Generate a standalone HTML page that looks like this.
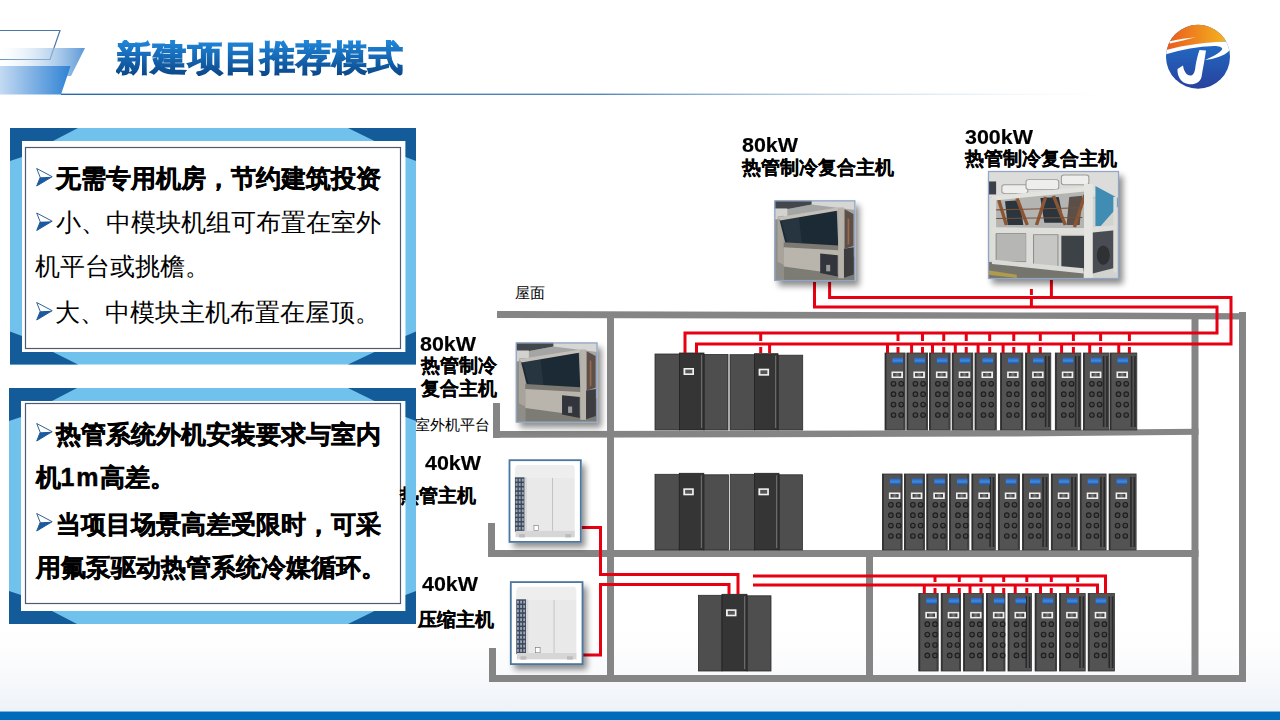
<!DOCTYPE html>
<html><head><meta charset="utf-8"><style>
html,body{margin:0;padding:0;}
body{width:1280px;height:720px;position:relative;overflow:hidden;background:#ffffff;font-family:"Liberation Sans",sans-serif;}
.t{position:absolute;white-space:nowrap;}
svg.layer{position:absolute;left:0;top:0;}
.title{position:absolute;left:116px;top:40px;font-size:35px;line-height:36px;letter-spacing:1px;font-weight:bold;white-space:nowrap;background:linear-gradient(#2088dc,#0a4688);-webkit-background-clip:text;background-clip:text;-webkit-text-fill-color:transparent;-webkit-text-stroke:1.3px transparent;color:#1563b0;}
</style></head><body>
<svg class="layer" width="1280" height="720" viewBox="0 0 1280 720">
<defs>
<linearGradient id="hg1" x1="0" x2="1" y1="0" y2="0"><stop offset="0" stop-color="#ffffff" stop-opacity="0.2"/><stop offset="1" stop-color="#5b98d6"/></linearGradient>
<linearGradient id="hg2" x1="0" x2="1" y1="0" y2="0"><stop offset="0" stop-color="#c4daf2"/><stop offset="1" stop-color="#2f82d4"/></linearGradient>
<linearGradient id="hline" x1="0" x2="1" y1="0" y2="0"><stop offset="0" stop-color="#2a6aa8"/><stop offset="0.5" stop-color="#2a6aa8" stop-opacity="0.8"/><stop offset="0.85" stop-color="#9cc0d8" stop-opacity="0.2"/><stop offset="1" stop-color="#ffffff" stop-opacity="0"/></linearGradient>
<linearGradient id="orange" x1="0" x2="1" y1="0" y2="0"><stop offset="0" stop-color="#e8501e"/><stop offset="1" stop-color="#f7c81e"/></linearGradient>
<linearGradient id="blue" x1="0" x2="0" y1="0" y2="1"><stop offset="0" stop-color="#1f7fd6"/><stop offset="1" stop-color="#283c98"/></linearGradient>
<linearGradient id="bottomfade" x1="0" x2="0" y1="0" y2="1"><stop offset="0" stop-color="#ffffff" stop-opacity="0"/><stop offset="0.6" stop-color="#f9fafc"/><stop offset="1" stop-color="#eef2f8"/></linearGradient>
<linearGradient id="rackblue" x1="0" x2="0" y1="0" y2="1"><stop offset="0" stop-color="#2a62b8"/><stop offset="0.5" stop-color="#3f8ae0"/><stop offset="1" stop-color="#1f4e98"/></linearGradient>
<linearGradient id="dispgray" x1="0" x2="1" y1="0" y2="0"><stop offset="0" stop-color="#333"/><stop offset="0.5" stop-color="#777"/><stop offset="1" stop-color="#333"/></linearGradient>
<filter id="soft"><feGaussianBlur stdDeviation="0.45"/></filter>
<filter id="shadow" x="-20%" y="-20%" width="150%" height="150%"><feGaussianBlur in="SourceAlpha" stdDeviation="3"/><feOffset dx="4" dy="5"/><feComponentTransfer><feFuncA type="linear" slope="0.45"/></feComponentTransfer><feMerge><feMergeNode/><feMergeNode in="SourceGraphic"/></feMerge></filter>
<clipPath id="logoclip"><circle cx="1198" cy="56.7" r="32"/></clipPath>
</defs>
<rect x="0.0" y="610.0" width="1280.0" height="102.0" fill="url(#bottomfade)" />
<polyline points="0,30.5 60,30.5 50,59.5 0,59.5" fill="none" stroke="#4a78a8" stroke-width="1.2"/>
<polygon points="0,48 85,48 71,76 0,76" fill="url(#hg1)"/>
<polygon points="0,66 70.6,66 61,94.4 0,94.4" fill="url(#hg2)"/>
<rect x="61.0" y="93.6" width="1080.0" height="1.4" fill="url(#hline)" />
<rect x="0.0" y="711.5" width="1280.0" height="8.5" fill="#006bbb" />
<rect x="0.0" y="711.2" width="1280.0" height="0.8" fill="#7fb4e0" />
<g clip-path="url(#logoclip)">
<rect x="1160" y="20" width="80" height="75" fill="url(#blue)"/>
<path d="M1160,20 H1240 V41.5 C1225,40.5 1195,43 1166,50.5 L1160,52 Z" fill="url(#orange)"/>
<path d="M1169,41.5 C1178,39.5 1188,37.8 1196,37.2 C1188,39.2 1178,41.5 1170,43.5 Z" fill="#fff"/>
<path d="M1160,51.5 C1180,46 1205,41.5 1228,41.5 C1232,42 1233,47 1229,51 C1224,56 1214,59 1205,60 C1212,57 1220,53 1222,49.5 C1223,47.5 1220,46 1214,46 C1196,46.5 1178,50.5 1160,56 Z" fill="#fff"/>
<path d="M1199.5,50 L1206,50.5 C1205,58 1203,68 1201.5,77 C1200,83 1194,85 1188,84 C1181,83 1177,76 1177.5,69 L1183,65.5 C1184,72 1187,76 1191,75.5 C1194,75 1195,71 1195.5,66 C1196.5,60 1198,54 1199.5,50 Z" fill="#fff"/>
</g>
<polygon points="497,311 1100,312.6 1246,313.3 1246,319.5 1100,319 497,318" fill="#858585"/>
<rect x="607.0" y="312.0" width="7.0" height="370.0" fill="#858585" />
<rect x="1191.5" y="313.0" width="7.0" height="369.0" fill="#858585" />
<rect x="1239.0" y="312.0" width="7.0" height="370.0" fill="#858585" />
<polygon points="493,431 1000,430.3 1198.5,428.8 1198.5,434.8 1000,436.6 493,437.8" fill="#858585"/>
<rect x="493.0" y="403.0" width="7.0" height="35.0" fill="#858585" />
<rect x="488.0" y="550.0" width="710.5" height="7.0" fill="#858585" />
<rect x="488.0" y="523.0" width="7.0" height="34.0" fill="#858585" />
<rect x="489.0" y="675.0" width="757.0" height="7.0" fill="#858585" />
<rect x="489.0" y="648.0" width="7.0" height="34.0" fill="#858585" />
<rect x="866.0" y="557.0" width="7.0" height="118.0" fill="#858585" />
<rect x="655.0" y="354.0" width="24.5" height="76.0" fill="#4e4e4e" stroke="#2b2b2b" stroke-width="0.8"/>
<rect x="704.0" y="354.5" width="24.0" height="75.5" fill="#4e4e4e" stroke="#2b2b2b" stroke-width="0.8"/>
<rect x="679.5" y="353.0" width="24.5" height="77.0" fill="#353535" stroke="#222" stroke-width="0.8"/>
<rect x="701.0" y="355.0" width="1.2" height="73.0" fill="#6a6a6a" />
<rect x="683.5" y="368.0" width="10.5" height="7.0" fill="#f0f0f0" />
<rect x="685.3" y="369.6" width="7.0" height="3.8" fill="#555" />
<rect x="730.0" y="354.7" width="24.6" height="75.3" fill="#4e4e4e" stroke="#2b2b2b" stroke-width="0.8"/>
<rect x="778.0" y="355.2" width="24.7" height="74.8" fill="#4e4e4e" stroke="#2b2b2b" stroke-width="0.8"/>
<rect x="754.6" y="353.7" width="23.4" height="76.3" fill="#353535" stroke="#222" stroke-width="0.8"/>
<rect x="775.0" y="355.7" width="1.2" height="72.3" fill="#6a6a6a" />
<rect x="758.6" y="368.7" width="10.5" height="7.0" fill="#f0f0f0" />
<rect x="760.4" y="370.3" width="7.0" height="3.8" fill="#555" />
<rect x="655.0" y="474.3" width="24.3" height="75.7" fill="#4e4e4e" stroke="#2b2b2b" stroke-width="0.8"/>
<rect x="703.8" y="474.8" width="24.6" height="75.2" fill="#4e4e4e" stroke="#2b2b2b" stroke-width="0.8"/>
<rect x="679.3" y="473.3" width="24.5" height="76.7" fill="#353535" stroke="#222" stroke-width="0.8"/>
<rect x="700.8" y="475.3" width="1.2" height="72.7" fill="#6a6a6a" />
<rect x="683.3" y="488.3" width="10.5" height="7.0" fill="#f0f0f0" />
<rect x="685.1" y="489.9" width="7.0" height="3.8" fill="#555" />
<rect x="730.2" y="474.3" width="24.2" height="75.7" fill="#4e4e4e" stroke="#2b2b2b" stroke-width="0.8"/>
<rect x="779.0" y="474.8" width="23.4" height="75.2" fill="#4e4e4e" stroke="#2b2b2b" stroke-width="0.8"/>
<rect x="754.4" y="473.3" width="24.6" height="76.7" fill="#353535" stroke="#222" stroke-width="0.8"/>
<rect x="776.0" y="475.3" width="1.2" height="72.7" fill="#6a6a6a" />
<rect x="758.4" y="488.3" width="10.5" height="7.0" fill="#f0f0f0" />
<rect x="760.2" y="489.9" width="7.0" height="3.8" fill="#555" />
<rect x="698.4" y="595.3" width="23.6" height="75.7" fill="#4e4e4e" stroke="#2b2b2b" stroke-width="0.8"/>
<rect x="747.0" y="595.8" width="24.0" height="75.2" fill="#4e4e4e" stroke="#2b2b2b" stroke-width="0.8"/>
<rect x="722.0" y="594.3" width="25.0" height="76.7" fill="#353535" stroke="#222" stroke-width="0.8"/>
<rect x="744.0" y="596.3" width="1.2" height="72.7" fill="#6a6a6a" />
<rect x="726.0" y="609.3" width="10.5" height="7.0" fill="#f0f0f0" />
<rect x="727.8" y="610.9" width="7.0" height="3.8" fill="#555" />
<rect x="885.0" y="353.0" width="20.1" height="77.0" fill="#535353" stroke="#333" stroke-width="0.8"/>
<rect x="885.0" y="353.0" width="1.4" height="77.0" fill="#2e2e2e" />
<rect x="903.4" y="354.0" width="1.2" height="75.0" fill="#3a3a3a" />
<rect x="892.5" y="357.5" width="10.5" height="6.5" fill="url(#rackblue)" />
<rect x="891.5" y="371.5" width="11.5" height="6.5" fill="#eeeeee" />
<rect x="893.2" y="373.0" width="8.0" height="3.5" fill="url(#dispgray)" />
<circle cx="893.5" cy="383.8" r="2.3" fill="#4a4a4a" stroke="#1e1e1e" stroke-width="1.1"/>
<circle cx="901.2" cy="383.8" r="2.3" fill="#4a4a4a" stroke="#1e1e1e" stroke-width="1.1"/>
<circle cx="893.5" cy="394.2" r="2.3" fill="#4a4a4a" stroke="#1e1e1e" stroke-width="1.1"/>
<circle cx="901.2" cy="394.2" r="2.3" fill="#4a4a4a" stroke="#1e1e1e" stroke-width="1.1"/>
<circle cx="893.5" cy="404.6" r="2.3" fill="#4a4a4a" stroke="#1e1e1e" stroke-width="1.1"/>
<circle cx="901.2" cy="404.6" r="2.3" fill="#4a4a4a" stroke="#1e1e1e" stroke-width="1.1"/>
<circle cx="893.5" cy="415.0" r="2.3" fill="#4a4a4a" stroke="#1e1e1e" stroke-width="1.1"/>
<circle cx="901.2" cy="415.0" r="2.3" fill="#4a4a4a" stroke="#1e1e1e" stroke-width="1.1"/>
<rect x="906.9" y="353.0" width="20.7" height="77.0" fill="#535353" stroke="#333" stroke-width="0.8"/>
<rect x="906.9" y="353.0" width="1.4" height="77.0" fill="#2e2e2e" />
<rect x="925.9" y="354.0" width="1.2" height="75.0" fill="#3a3a3a" />
<rect x="914.4" y="357.5" width="10.5" height="6.5" fill="url(#rackblue)" />
<rect x="913.4" y="371.5" width="11.5" height="6.5" fill="#eeeeee" />
<rect x="915.1" y="373.0" width="8.0" height="3.5" fill="url(#dispgray)" />
<circle cx="915.4" cy="383.8" r="2.3" fill="#4a4a4a" stroke="#1e1e1e" stroke-width="1.1"/>
<circle cx="923.1" cy="383.8" r="2.3" fill="#4a4a4a" stroke="#1e1e1e" stroke-width="1.1"/>
<circle cx="915.4" cy="394.2" r="2.3" fill="#4a4a4a" stroke="#1e1e1e" stroke-width="1.1"/>
<circle cx="923.1" cy="394.2" r="2.3" fill="#4a4a4a" stroke="#1e1e1e" stroke-width="1.1"/>
<circle cx="915.4" cy="404.6" r="2.3" fill="#4a4a4a" stroke="#1e1e1e" stroke-width="1.1"/>
<circle cx="923.1" cy="404.6" r="2.3" fill="#4a4a4a" stroke="#1e1e1e" stroke-width="1.1"/>
<circle cx="915.4" cy="415.0" r="2.3" fill="#4a4a4a" stroke="#1e1e1e" stroke-width="1.1"/>
<circle cx="923.1" cy="415.0" r="2.3" fill="#4a4a4a" stroke="#1e1e1e" stroke-width="1.1"/>
<rect x="929.4" y="353.0" width="20.7" height="77.0" fill="#535353" stroke="#333" stroke-width="0.8"/>
<rect x="929.4" y="353.0" width="1.4" height="77.0" fill="#2e2e2e" />
<rect x="948.4" y="354.0" width="1.2" height="75.0" fill="#3a3a3a" />
<rect x="936.9" y="357.5" width="10.5" height="6.5" fill="url(#rackblue)" />
<rect x="935.9" y="371.5" width="11.5" height="6.5" fill="#eeeeee" />
<rect x="937.6" y="373.0" width="8.0" height="3.5" fill="url(#dispgray)" />
<circle cx="937.9" cy="383.8" r="2.3" fill="#4a4a4a" stroke="#1e1e1e" stroke-width="1.1"/>
<circle cx="945.6" cy="383.8" r="2.3" fill="#4a4a4a" stroke="#1e1e1e" stroke-width="1.1"/>
<circle cx="937.9" cy="394.2" r="2.3" fill="#4a4a4a" stroke="#1e1e1e" stroke-width="1.1"/>
<circle cx="945.6" cy="394.2" r="2.3" fill="#4a4a4a" stroke="#1e1e1e" stroke-width="1.1"/>
<circle cx="937.9" cy="404.6" r="2.3" fill="#4a4a4a" stroke="#1e1e1e" stroke-width="1.1"/>
<circle cx="945.6" cy="404.6" r="2.3" fill="#4a4a4a" stroke="#1e1e1e" stroke-width="1.1"/>
<circle cx="937.9" cy="415.0" r="2.3" fill="#4a4a4a" stroke="#1e1e1e" stroke-width="1.1"/>
<circle cx="945.6" cy="415.0" r="2.3" fill="#4a4a4a" stroke="#1e1e1e" stroke-width="1.1"/>
<rect x="952.2" y="353.0" width="20.6" height="77.0" fill="#535353" stroke="#333" stroke-width="0.8"/>
<rect x="952.2" y="353.0" width="1.4" height="77.0" fill="#2e2e2e" />
<rect x="971.2" y="354.0" width="1.2" height="75.0" fill="#3a3a3a" />
<rect x="959.7" y="357.5" width="10.5" height="6.5" fill="url(#rackblue)" />
<rect x="958.7" y="371.5" width="11.5" height="6.5" fill="#eeeeee" />
<rect x="960.4" y="373.0" width="8.0" height="3.5" fill="url(#dispgray)" />
<circle cx="960.7" cy="383.8" r="2.3" fill="#4a4a4a" stroke="#1e1e1e" stroke-width="1.1"/>
<circle cx="968.4" cy="383.8" r="2.3" fill="#4a4a4a" stroke="#1e1e1e" stroke-width="1.1"/>
<circle cx="960.7" cy="394.2" r="2.3" fill="#4a4a4a" stroke="#1e1e1e" stroke-width="1.1"/>
<circle cx="968.4" cy="394.2" r="2.3" fill="#4a4a4a" stroke="#1e1e1e" stroke-width="1.1"/>
<circle cx="960.7" cy="404.6" r="2.3" fill="#4a4a4a" stroke="#1e1e1e" stroke-width="1.1"/>
<circle cx="968.4" cy="404.6" r="2.3" fill="#4a4a4a" stroke="#1e1e1e" stroke-width="1.1"/>
<circle cx="960.7" cy="415.0" r="2.3" fill="#4a4a4a" stroke="#1e1e1e" stroke-width="1.1"/>
<circle cx="968.4" cy="415.0" r="2.3" fill="#4a4a4a" stroke="#1e1e1e" stroke-width="1.1"/>
<rect x="975.0" y="353.0" width="21.3" height="77.0" fill="#535353" stroke="#333" stroke-width="0.8"/>
<rect x="975.0" y="353.0" width="1.4" height="77.0" fill="#2e2e2e" />
<rect x="994.7" y="354.0" width="1.2" height="75.0" fill="#3a3a3a" />
<rect x="982.5" y="357.5" width="10.5" height="6.5" fill="url(#rackblue)" />
<rect x="981.5" y="371.5" width="11.5" height="6.5" fill="#eeeeee" />
<rect x="983.2" y="373.0" width="8.0" height="3.5" fill="url(#dispgray)" />
<circle cx="983.5" cy="383.8" r="2.3" fill="#4a4a4a" stroke="#1e1e1e" stroke-width="1.1"/>
<circle cx="991.2" cy="383.8" r="2.3" fill="#4a4a4a" stroke="#1e1e1e" stroke-width="1.1"/>
<circle cx="983.5" cy="394.2" r="2.3" fill="#4a4a4a" stroke="#1e1e1e" stroke-width="1.1"/>
<circle cx="991.2" cy="394.2" r="2.3" fill="#4a4a4a" stroke="#1e1e1e" stroke-width="1.1"/>
<circle cx="983.5" cy="404.6" r="2.3" fill="#4a4a4a" stroke="#1e1e1e" stroke-width="1.1"/>
<circle cx="991.2" cy="404.6" r="2.3" fill="#4a4a4a" stroke="#1e1e1e" stroke-width="1.1"/>
<circle cx="983.5" cy="415.0" r="2.3" fill="#4a4a4a" stroke="#1e1e1e" stroke-width="1.1"/>
<circle cx="991.2" cy="415.0" r="2.3" fill="#4a4a4a" stroke="#1e1e1e" stroke-width="1.1"/>
<rect x="1000.6" y="353.0" width="22.2" height="77.0" fill="#535353" stroke="#333" stroke-width="0.8"/>
<rect x="1000.6" y="353.0" width="1.4" height="77.0" fill="#2e2e2e" />
<rect x="1021.2" y="354.0" width="1.2" height="75.0" fill="#3a3a3a" />
<rect x="1008.1" y="357.5" width="10.5" height="6.5" fill="url(#rackblue)" />
<rect x="1007.1" y="371.5" width="11.5" height="6.5" fill="#eeeeee" />
<rect x="1008.8" y="373.0" width="8.0" height="3.5" fill="url(#dispgray)" />
<circle cx="1009.1" cy="383.8" r="2.3" fill="#4a4a4a" stroke="#1e1e1e" stroke-width="1.1"/>
<circle cx="1016.8" cy="383.8" r="2.3" fill="#4a4a4a" stroke="#1e1e1e" stroke-width="1.1"/>
<circle cx="1009.1" cy="394.2" r="2.3" fill="#4a4a4a" stroke="#1e1e1e" stroke-width="1.1"/>
<circle cx="1016.8" cy="394.2" r="2.3" fill="#4a4a4a" stroke="#1e1e1e" stroke-width="1.1"/>
<circle cx="1009.1" cy="404.6" r="2.3" fill="#4a4a4a" stroke="#1e1e1e" stroke-width="1.1"/>
<circle cx="1016.8" cy="404.6" r="2.3" fill="#4a4a4a" stroke="#1e1e1e" stroke-width="1.1"/>
<circle cx="1009.1" cy="415.0" r="2.3" fill="#4a4a4a" stroke="#1e1e1e" stroke-width="1.1"/>
<circle cx="1016.8" cy="415.0" r="2.3" fill="#4a4a4a" stroke="#1e1e1e" stroke-width="1.1"/>
<rect x="1025.6" y="353.0" width="25.2" height="77.0" fill="#535353" stroke="#333" stroke-width="0.8"/>
<rect x="1025.6" y="353.0" width="1.4" height="77.0" fill="#2e2e2e" />
<rect x="1044.8" y="356.0" width="1.6" height="71.0" fill="#2a2a2a" />
<rect x="1048.2" y="356.0" width="1.6" height="71.0" fill="#2a2a2a" />
<rect x="1033.1" y="357.5" width="10.5" height="6.5" fill="url(#rackblue)" />
<rect x="1032.1" y="371.5" width="11.5" height="6.5" fill="#eeeeee" />
<rect x="1033.8" y="373.0" width="8.0" height="3.5" fill="url(#dispgray)" />
<circle cx="1034.1" cy="383.8" r="2.3" fill="#4a4a4a" stroke="#1e1e1e" stroke-width="1.1"/>
<circle cx="1041.8" cy="383.8" r="2.3" fill="#4a4a4a" stroke="#1e1e1e" stroke-width="1.1"/>
<circle cx="1034.1" cy="394.2" r="2.3" fill="#4a4a4a" stroke="#1e1e1e" stroke-width="1.1"/>
<circle cx="1041.8" cy="394.2" r="2.3" fill="#4a4a4a" stroke="#1e1e1e" stroke-width="1.1"/>
<circle cx="1034.1" cy="404.6" r="2.3" fill="#4a4a4a" stroke="#1e1e1e" stroke-width="1.1"/>
<circle cx="1041.8" cy="404.6" r="2.3" fill="#4a4a4a" stroke="#1e1e1e" stroke-width="1.1"/>
<circle cx="1034.1" cy="415.0" r="2.3" fill="#4a4a4a" stroke="#1e1e1e" stroke-width="1.1"/>
<circle cx="1041.8" cy="415.0" r="2.3" fill="#4a4a4a" stroke="#1e1e1e" stroke-width="1.1"/>
<rect x="1055.3" y="353.0" width="25.5" height="77.0" fill="#535353" stroke="#333" stroke-width="0.8"/>
<rect x="1055.3" y="353.0" width="1.4" height="77.0" fill="#2e2e2e" />
<rect x="1074.8" y="356.0" width="1.6" height="71.0" fill="#2a2a2a" />
<rect x="1078.2" y="356.0" width="1.6" height="71.0" fill="#2a2a2a" />
<rect x="1062.8" y="357.5" width="10.5" height="6.5" fill="url(#rackblue)" />
<rect x="1061.8" y="371.5" width="11.5" height="6.5" fill="#eeeeee" />
<rect x="1063.5" y="373.0" width="8.0" height="3.5" fill="url(#dispgray)" />
<circle cx="1063.8" cy="383.8" r="2.3" fill="#4a4a4a" stroke="#1e1e1e" stroke-width="1.1"/>
<circle cx="1071.5" cy="383.8" r="2.3" fill="#4a4a4a" stroke="#1e1e1e" stroke-width="1.1"/>
<circle cx="1063.8" cy="394.2" r="2.3" fill="#4a4a4a" stroke="#1e1e1e" stroke-width="1.1"/>
<circle cx="1071.5" cy="394.2" r="2.3" fill="#4a4a4a" stroke="#1e1e1e" stroke-width="1.1"/>
<circle cx="1063.8" cy="404.6" r="2.3" fill="#4a4a4a" stroke="#1e1e1e" stroke-width="1.1"/>
<circle cx="1071.5" cy="404.6" r="2.3" fill="#4a4a4a" stroke="#1e1e1e" stroke-width="1.1"/>
<circle cx="1063.8" cy="415.0" r="2.3" fill="#4a4a4a" stroke="#1e1e1e" stroke-width="1.1"/>
<circle cx="1071.5" cy="415.0" r="2.3" fill="#4a4a4a" stroke="#1e1e1e" stroke-width="1.1"/>
<rect x="1083.4" y="353.0" width="25.4" height="77.0" fill="#535353" stroke="#333" stroke-width="0.8"/>
<rect x="1083.4" y="353.0" width="1.4" height="77.0" fill="#2e2e2e" />
<rect x="1102.8" y="356.0" width="1.6" height="71.0" fill="#2a2a2a" />
<rect x="1106.2" y="356.0" width="1.6" height="71.0" fill="#2a2a2a" />
<rect x="1090.9" y="357.5" width="10.5" height="6.5" fill="url(#rackblue)" />
<rect x="1089.9" y="371.5" width="11.5" height="6.5" fill="#eeeeee" />
<rect x="1091.6" y="373.0" width="8.0" height="3.5" fill="url(#dispgray)" />
<circle cx="1091.9" cy="383.8" r="2.3" fill="#4a4a4a" stroke="#1e1e1e" stroke-width="1.1"/>
<circle cx="1099.6" cy="383.8" r="2.3" fill="#4a4a4a" stroke="#1e1e1e" stroke-width="1.1"/>
<circle cx="1091.9" cy="394.2" r="2.3" fill="#4a4a4a" stroke="#1e1e1e" stroke-width="1.1"/>
<circle cx="1099.6" cy="394.2" r="2.3" fill="#4a4a4a" stroke="#1e1e1e" stroke-width="1.1"/>
<circle cx="1091.9" cy="404.6" r="2.3" fill="#4a4a4a" stroke="#1e1e1e" stroke-width="1.1"/>
<circle cx="1099.6" cy="404.6" r="2.3" fill="#4a4a4a" stroke="#1e1e1e" stroke-width="1.1"/>
<circle cx="1091.9" cy="415.0" r="2.3" fill="#4a4a4a" stroke="#1e1e1e" stroke-width="1.1"/>
<circle cx="1099.6" cy="415.0" r="2.3" fill="#4a4a4a" stroke="#1e1e1e" stroke-width="1.1"/>
<rect x="1110.0" y="353.0" width="26.8" height="77.0" fill="#535353" stroke="#333" stroke-width="0.8"/>
<rect x="1110.0" y="353.0" width="1.4" height="77.0" fill="#2e2e2e" />
<rect x="1130.8" y="356.0" width="1.6" height="71.0" fill="#2a2a2a" />
<rect x="1134.2" y="356.0" width="1.6" height="71.0" fill="#2a2a2a" />
<rect x="1117.5" y="357.5" width="10.5" height="6.5" fill="url(#rackblue)" />
<rect x="1116.5" y="371.5" width="11.5" height="6.5" fill="#eeeeee" />
<rect x="1118.2" y="373.0" width="8.0" height="3.5" fill="url(#dispgray)" />
<circle cx="1118.5" cy="383.8" r="2.3" fill="#4a4a4a" stroke="#1e1e1e" stroke-width="1.1"/>
<circle cx="1126.2" cy="383.8" r="2.3" fill="#4a4a4a" stroke="#1e1e1e" stroke-width="1.1"/>
<circle cx="1118.5" cy="394.2" r="2.3" fill="#4a4a4a" stroke="#1e1e1e" stroke-width="1.1"/>
<circle cx="1126.2" cy="394.2" r="2.3" fill="#4a4a4a" stroke="#1e1e1e" stroke-width="1.1"/>
<circle cx="1118.5" cy="404.6" r="2.3" fill="#4a4a4a" stroke="#1e1e1e" stroke-width="1.1"/>
<circle cx="1126.2" cy="404.6" r="2.3" fill="#4a4a4a" stroke="#1e1e1e" stroke-width="1.1"/>
<circle cx="1118.5" cy="415.0" r="2.3" fill="#4a4a4a" stroke="#1e1e1e" stroke-width="1.1"/>
<circle cx="1126.2" cy="415.0" r="2.3" fill="#4a4a4a" stroke="#1e1e1e" stroke-width="1.1"/>
<rect x="882.4" y="474.0" width="19.7" height="76.0" fill="#535353" stroke="#333" stroke-width="0.8"/>
<rect x="882.4" y="474.0" width="1.4" height="76.0" fill="#2e2e2e" />
<rect x="900.5" y="475.0" width="1.2" height="74.0" fill="#3a3a3a" />
<rect x="889.9" y="478.5" width="10.5" height="6.5" fill="url(#rackblue)" />
<rect x="888.9" y="492.5" width="11.5" height="6.5" fill="#eeeeee" />
<rect x="890.6" y="494.0" width="8.0" height="3.5" fill="url(#dispgray)" />
<circle cx="890.9" cy="504.8" r="2.3" fill="#4a4a4a" stroke="#1e1e1e" stroke-width="1.1"/>
<circle cx="898.6" cy="504.8" r="2.3" fill="#4a4a4a" stroke="#1e1e1e" stroke-width="1.1"/>
<circle cx="890.9" cy="515.2" r="2.3" fill="#4a4a4a" stroke="#1e1e1e" stroke-width="1.1"/>
<circle cx="898.6" cy="515.2" r="2.3" fill="#4a4a4a" stroke="#1e1e1e" stroke-width="1.1"/>
<circle cx="890.9" cy="525.6" r="2.3" fill="#4a4a4a" stroke="#1e1e1e" stroke-width="1.1"/>
<circle cx="898.6" cy="525.6" r="2.3" fill="#4a4a4a" stroke="#1e1e1e" stroke-width="1.1"/>
<circle cx="890.9" cy="536.0" r="2.3" fill="#4a4a4a" stroke="#1e1e1e" stroke-width="1.1"/>
<circle cx="898.6" cy="536.0" r="2.3" fill="#4a4a4a" stroke="#1e1e1e" stroke-width="1.1"/>
<rect x="904.4" y="474.0" width="20.1" height="76.0" fill="#535353" stroke="#333" stroke-width="0.8"/>
<rect x="904.4" y="474.0" width="1.4" height="76.0" fill="#2e2e2e" />
<rect x="922.9" y="475.0" width="1.2" height="74.0" fill="#3a3a3a" />
<rect x="911.9" y="478.5" width="10.5" height="6.5" fill="url(#rackblue)" />
<rect x="910.9" y="492.5" width="11.5" height="6.5" fill="#eeeeee" />
<rect x="912.6" y="494.0" width="8.0" height="3.5" fill="url(#dispgray)" />
<circle cx="912.9" cy="504.8" r="2.3" fill="#4a4a4a" stroke="#1e1e1e" stroke-width="1.1"/>
<circle cx="920.6" cy="504.8" r="2.3" fill="#4a4a4a" stroke="#1e1e1e" stroke-width="1.1"/>
<circle cx="912.9" cy="515.2" r="2.3" fill="#4a4a4a" stroke="#1e1e1e" stroke-width="1.1"/>
<circle cx="920.6" cy="515.2" r="2.3" fill="#4a4a4a" stroke="#1e1e1e" stroke-width="1.1"/>
<circle cx="912.9" cy="525.6" r="2.3" fill="#4a4a4a" stroke="#1e1e1e" stroke-width="1.1"/>
<circle cx="920.6" cy="525.6" r="2.3" fill="#4a4a4a" stroke="#1e1e1e" stroke-width="1.1"/>
<circle cx="912.9" cy="536.0" r="2.3" fill="#4a4a4a" stroke="#1e1e1e" stroke-width="1.1"/>
<circle cx="920.6" cy="536.0" r="2.3" fill="#4a4a4a" stroke="#1e1e1e" stroke-width="1.1"/>
<rect x="926.8" y="474.0" width="20.4" height="76.0" fill="#535353" stroke="#333" stroke-width="0.8"/>
<rect x="926.8" y="474.0" width="1.4" height="76.0" fill="#2e2e2e" />
<rect x="945.6" y="475.0" width="1.2" height="74.0" fill="#3a3a3a" />
<rect x="934.3" y="478.5" width="10.5" height="6.5" fill="url(#rackblue)" />
<rect x="933.3" y="492.5" width="11.5" height="6.5" fill="#eeeeee" />
<rect x="935.0" y="494.0" width="8.0" height="3.5" fill="url(#dispgray)" />
<circle cx="935.3" cy="504.8" r="2.3" fill="#4a4a4a" stroke="#1e1e1e" stroke-width="1.1"/>
<circle cx="943.0" cy="504.8" r="2.3" fill="#4a4a4a" stroke="#1e1e1e" stroke-width="1.1"/>
<circle cx="935.3" cy="515.2" r="2.3" fill="#4a4a4a" stroke="#1e1e1e" stroke-width="1.1"/>
<circle cx="943.0" cy="515.2" r="2.3" fill="#4a4a4a" stroke="#1e1e1e" stroke-width="1.1"/>
<circle cx="935.3" cy="525.6" r="2.3" fill="#4a4a4a" stroke="#1e1e1e" stroke-width="1.1"/>
<circle cx="943.0" cy="525.6" r="2.3" fill="#4a4a4a" stroke="#1e1e1e" stroke-width="1.1"/>
<circle cx="935.3" cy="536.0" r="2.3" fill="#4a4a4a" stroke="#1e1e1e" stroke-width="1.1"/>
<circle cx="943.0" cy="536.0" r="2.3" fill="#4a4a4a" stroke="#1e1e1e" stroke-width="1.1"/>
<rect x="949.5" y="474.0" width="19.4" height="76.0" fill="#535353" stroke="#333" stroke-width="0.8"/>
<rect x="949.5" y="474.0" width="1.4" height="76.0" fill="#2e2e2e" />
<rect x="967.3" y="475.0" width="1.2" height="74.0" fill="#3a3a3a" />
<rect x="957.0" y="478.5" width="10.5" height="6.5" fill="url(#rackblue)" />
<rect x="956.0" y="492.5" width="11.5" height="6.5" fill="#eeeeee" />
<rect x="957.7" y="494.0" width="8.0" height="3.5" fill="url(#dispgray)" />
<circle cx="958.0" cy="504.8" r="2.3" fill="#4a4a4a" stroke="#1e1e1e" stroke-width="1.1"/>
<circle cx="965.7" cy="504.8" r="2.3" fill="#4a4a4a" stroke="#1e1e1e" stroke-width="1.1"/>
<circle cx="958.0" cy="515.2" r="2.3" fill="#4a4a4a" stroke="#1e1e1e" stroke-width="1.1"/>
<circle cx="965.7" cy="515.2" r="2.3" fill="#4a4a4a" stroke="#1e1e1e" stroke-width="1.1"/>
<circle cx="958.0" cy="525.6" r="2.3" fill="#4a4a4a" stroke="#1e1e1e" stroke-width="1.1"/>
<circle cx="965.7" cy="525.6" r="2.3" fill="#4a4a4a" stroke="#1e1e1e" stroke-width="1.1"/>
<circle cx="958.0" cy="536.0" r="2.3" fill="#4a4a4a" stroke="#1e1e1e" stroke-width="1.1"/>
<circle cx="965.7" cy="536.0" r="2.3" fill="#4a4a4a" stroke="#1e1e1e" stroke-width="1.1"/>
<rect x="971.9" y="474.0" width="23.4" height="76.0" fill="#535353" stroke="#333" stroke-width="0.8"/>
<rect x="971.9" y="474.0" width="1.4" height="76.0" fill="#2e2e2e" />
<rect x="989.3" y="477.0" width="1.6" height="70.0" fill="#2a2a2a" />
<rect x="992.7" y="477.0" width="1.6" height="70.0" fill="#2a2a2a" />
<rect x="979.4" y="478.5" width="10.5" height="6.5" fill="url(#rackblue)" />
<rect x="978.4" y="492.5" width="11.5" height="6.5" fill="#eeeeee" />
<rect x="980.1" y="494.0" width="8.0" height="3.5" fill="url(#dispgray)" />
<circle cx="980.4" cy="504.8" r="2.3" fill="#4a4a4a" stroke="#1e1e1e" stroke-width="1.1"/>
<circle cx="988.1" cy="504.8" r="2.3" fill="#4a4a4a" stroke="#1e1e1e" stroke-width="1.1"/>
<circle cx="980.4" cy="515.2" r="2.3" fill="#4a4a4a" stroke="#1e1e1e" stroke-width="1.1"/>
<circle cx="988.1" cy="515.2" r="2.3" fill="#4a4a4a" stroke="#1e1e1e" stroke-width="1.1"/>
<circle cx="980.4" cy="525.6" r="2.3" fill="#4a4a4a" stroke="#1e1e1e" stroke-width="1.1"/>
<circle cx="988.1" cy="525.6" r="2.3" fill="#4a4a4a" stroke="#1e1e1e" stroke-width="1.1"/>
<circle cx="980.4" cy="536.0" r="2.3" fill="#4a4a4a" stroke="#1e1e1e" stroke-width="1.1"/>
<circle cx="988.1" cy="536.0" r="2.3" fill="#4a4a4a" stroke="#1e1e1e" stroke-width="1.1"/>
<rect x="998.3" y="474.0" width="21.1" height="76.0" fill="#535353" stroke="#333" stroke-width="0.8"/>
<rect x="998.3" y="474.0" width="1.4" height="76.0" fill="#2e2e2e" />
<rect x="1017.8" y="475.0" width="1.2" height="74.0" fill="#3a3a3a" />
<rect x="1005.8" y="478.5" width="10.5" height="6.5" fill="url(#rackblue)" />
<rect x="1004.8" y="492.5" width="11.5" height="6.5" fill="#eeeeee" />
<rect x="1006.5" y="494.0" width="8.0" height="3.5" fill="url(#dispgray)" />
<circle cx="1006.8" cy="504.8" r="2.3" fill="#4a4a4a" stroke="#1e1e1e" stroke-width="1.1"/>
<circle cx="1014.5" cy="504.8" r="2.3" fill="#4a4a4a" stroke="#1e1e1e" stroke-width="1.1"/>
<circle cx="1006.8" cy="515.2" r="2.3" fill="#4a4a4a" stroke="#1e1e1e" stroke-width="1.1"/>
<circle cx="1014.5" cy="515.2" r="2.3" fill="#4a4a4a" stroke="#1e1e1e" stroke-width="1.1"/>
<circle cx="1006.8" cy="525.6" r="2.3" fill="#4a4a4a" stroke="#1e1e1e" stroke-width="1.1"/>
<circle cx="1014.5" cy="525.6" r="2.3" fill="#4a4a4a" stroke="#1e1e1e" stroke-width="1.1"/>
<circle cx="1006.8" cy="536.0" r="2.3" fill="#4a4a4a" stroke="#1e1e1e" stroke-width="1.1"/>
<circle cx="1014.5" cy="536.0" r="2.3" fill="#4a4a4a" stroke="#1e1e1e" stroke-width="1.1"/>
<rect x="1022.5" y="474.0" width="25.8" height="76.0" fill="#535353" stroke="#333" stroke-width="0.8"/>
<rect x="1022.5" y="474.0" width="1.4" height="76.0" fill="#2e2e2e" />
<rect x="1042.3" y="477.0" width="1.6" height="70.0" fill="#2a2a2a" />
<rect x="1045.7" y="477.0" width="1.6" height="70.0" fill="#2a2a2a" />
<rect x="1030.0" y="478.5" width="10.5" height="6.5" fill="url(#rackblue)" />
<rect x="1029.0" y="492.5" width="11.5" height="6.5" fill="#eeeeee" />
<rect x="1030.7" y="494.0" width="8.0" height="3.5" fill="url(#dispgray)" />
<circle cx="1031.0" cy="504.8" r="2.3" fill="#4a4a4a" stroke="#1e1e1e" stroke-width="1.1"/>
<circle cx="1038.7" cy="504.8" r="2.3" fill="#4a4a4a" stroke="#1e1e1e" stroke-width="1.1"/>
<circle cx="1031.0" cy="515.2" r="2.3" fill="#4a4a4a" stroke="#1e1e1e" stroke-width="1.1"/>
<circle cx="1038.7" cy="515.2" r="2.3" fill="#4a4a4a" stroke="#1e1e1e" stroke-width="1.1"/>
<circle cx="1031.0" cy="525.6" r="2.3" fill="#4a4a4a" stroke="#1e1e1e" stroke-width="1.1"/>
<circle cx="1038.7" cy="525.6" r="2.3" fill="#4a4a4a" stroke="#1e1e1e" stroke-width="1.1"/>
<circle cx="1031.0" cy="536.0" r="2.3" fill="#4a4a4a" stroke="#1e1e1e" stroke-width="1.1"/>
<circle cx="1038.7" cy="536.0" r="2.3" fill="#4a4a4a" stroke="#1e1e1e" stroke-width="1.1"/>
<rect x="1051.3" y="474.0" width="25.9" height="76.0" fill="#535353" stroke="#333" stroke-width="0.8"/>
<rect x="1051.3" y="474.0" width="1.4" height="76.0" fill="#2e2e2e" />
<rect x="1071.2" y="477.0" width="1.6" height="70.0" fill="#2a2a2a" />
<rect x="1074.6" y="477.0" width="1.6" height="70.0" fill="#2a2a2a" />
<rect x="1058.8" y="478.5" width="10.5" height="6.5" fill="url(#rackblue)" />
<rect x="1057.8" y="492.5" width="11.5" height="6.5" fill="#eeeeee" />
<rect x="1059.5" y="494.0" width="8.0" height="3.5" fill="url(#dispgray)" />
<circle cx="1059.8" cy="504.8" r="2.3" fill="#4a4a4a" stroke="#1e1e1e" stroke-width="1.1"/>
<circle cx="1067.5" cy="504.8" r="2.3" fill="#4a4a4a" stroke="#1e1e1e" stroke-width="1.1"/>
<circle cx="1059.8" cy="515.2" r="2.3" fill="#4a4a4a" stroke="#1e1e1e" stroke-width="1.1"/>
<circle cx="1067.5" cy="515.2" r="2.3" fill="#4a4a4a" stroke="#1e1e1e" stroke-width="1.1"/>
<circle cx="1059.8" cy="525.6" r="2.3" fill="#4a4a4a" stroke="#1e1e1e" stroke-width="1.1"/>
<circle cx="1067.5" cy="525.6" r="2.3" fill="#4a4a4a" stroke="#1e1e1e" stroke-width="1.1"/>
<circle cx="1059.8" cy="536.0" r="2.3" fill="#4a4a4a" stroke="#1e1e1e" stroke-width="1.1"/>
<circle cx="1067.5" cy="536.0" r="2.3" fill="#4a4a4a" stroke="#1e1e1e" stroke-width="1.1"/>
<rect x="1080.2" y="474.0" width="25.9" height="76.0" fill="#535353" stroke="#333" stroke-width="0.8"/>
<rect x="1080.2" y="474.0" width="1.4" height="76.0" fill="#2e2e2e" />
<rect x="1100.1" y="477.0" width="1.6" height="70.0" fill="#2a2a2a" />
<rect x="1103.5" y="477.0" width="1.6" height="70.0" fill="#2a2a2a" />
<rect x="1087.7" y="478.5" width="10.5" height="6.5" fill="url(#rackblue)" />
<rect x="1086.7" y="492.5" width="11.5" height="6.5" fill="#eeeeee" />
<rect x="1088.4" y="494.0" width="8.0" height="3.5" fill="url(#dispgray)" />
<circle cx="1088.7" cy="504.8" r="2.3" fill="#4a4a4a" stroke="#1e1e1e" stroke-width="1.1"/>
<circle cx="1096.4" cy="504.8" r="2.3" fill="#4a4a4a" stroke="#1e1e1e" stroke-width="1.1"/>
<circle cx="1088.7" cy="515.2" r="2.3" fill="#4a4a4a" stroke="#1e1e1e" stroke-width="1.1"/>
<circle cx="1096.4" cy="515.2" r="2.3" fill="#4a4a4a" stroke="#1e1e1e" stroke-width="1.1"/>
<circle cx="1088.7" cy="525.6" r="2.3" fill="#4a4a4a" stroke="#1e1e1e" stroke-width="1.1"/>
<circle cx="1096.4" cy="525.6" r="2.3" fill="#4a4a4a" stroke="#1e1e1e" stroke-width="1.1"/>
<circle cx="1088.7" cy="536.0" r="2.3" fill="#4a4a4a" stroke="#1e1e1e" stroke-width="1.1"/>
<circle cx="1096.4" cy="536.0" r="2.3" fill="#4a4a4a" stroke="#1e1e1e" stroke-width="1.1"/>
<rect x="1109.1" y="474.0" width="27.0" height="76.0" fill="#535353" stroke="#333" stroke-width="0.8"/>
<rect x="1109.1" y="474.0" width="1.4" height="76.0" fill="#2e2e2e" />
<rect x="1130.1" y="477.0" width="1.6" height="70.0" fill="#2a2a2a" />
<rect x="1133.5" y="477.0" width="1.6" height="70.0" fill="#2a2a2a" />
<rect x="1116.6" y="478.5" width="10.5" height="6.5" fill="url(#rackblue)" />
<rect x="1115.6" y="492.5" width="11.5" height="6.5" fill="#eeeeee" />
<rect x="1117.3" y="494.0" width="8.0" height="3.5" fill="url(#dispgray)" />
<circle cx="1117.6" cy="504.8" r="2.3" fill="#4a4a4a" stroke="#1e1e1e" stroke-width="1.1"/>
<circle cx="1125.3" cy="504.8" r="2.3" fill="#4a4a4a" stroke="#1e1e1e" stroke-width="1.1"/>
<circle cx="1117.6" cy="515.2" r="2.3" fill="#4a4a4a" stroke="#1e1e1e" stroke-width="1.1"/>
<circle cx="1125.3" cy="515.2" r="2.3" fill="#4a4a4a" stroke="#1e1e1e" stroke-width="1.1"/>
<circle cx="1117.6" cy="525.6" r="2.3" fill="#4a4a4a" stroke="#1e1e1e" stroke-width="1.1"/>
<circle cx="1125.3" cy="525.6" r="2.3" fill="#4a4a4a" stroke="#1e1e1e" stroke-width="1.1"/>
<circle cx="1117.6" cy="536.0" r="2.3" fill="#4a4a4a" stroke="#1e1e1e" stroke-width="1.1"/>
<circle cx="1125.3" cy="536.0" r="2.3" fill="#4a4a4a" stroke="#1e1e1e" stroke-width="1.1"/>
<rect x="918.8" y="593.4" width="19.4" height="77.6" fill="#535353" stroke="#333" stroke-width="0.8"/>
<rect x="918.8" y="593.4" width="1.4" height="77.6" fill="#2e2e2e" />
<rect x="936.6" y="594.4" width="1.2" height="75.6" fill="#3a3a3a" />
<rect x="926.3" y="597.9" width="10.5" height="6.5" fill="url(#rackblue)" />
<rect x="925.3" y="611.9" width="11.5" height="6.5" fill="#eeeeee" />
<rect x="927.0" y="613.4" width="8.0" height="3.5" fill="url(#dispgray)" />
<circle cx="927.3" cy="624.2" r="2.3" fill="#4a4a4a" stroke="#1e1e1e" stroke-width="1.1"/>
<circle cx="935.0" cy="624.2" r="2.3" fill="#4a4a4a" stroke="#1e1e1e" stroke-width="1.1"/>
<circle cx="927.3" cy="634.6" r="2.3" fill="#4a4a4a" stroke="#1e1e1e" stroke-width="1.1"/>
<circle cx="935.0" cy="634.6" r="2.3" fill="#4a4a4a" stroke="#1e1e1e" stroke-width="1.1"/>
<circle cx="927.3" cy="645.0" r="2.3" fill="#4a4a4a" stroke="#1e1e1e" stroke-width="1.1"/>
<circle cx="935.0" cy="645.0" r="2.3" fill="#4a4a4a" stroke="#1e1e1e" stroke-width="1.1"/>
<circle cx="927.3" cy="655.4" r="2.3" fill="#4a4a4a" stroke="#1e1e1e" stroke-width="1.1"/>
<circle cx="935.0" cy="655.4" r="2.3" fill="#4a4a4a" stroke="#1e1e1e" stroke-width="1.1"/>
<rect x="941.2" y="593.4" width="19.4" height="77.6" fill="#535353" stroke="#333" stroke-width="0.8"/>
<rect x="941.2" y="593.4" width="1.4" height="77.6" fill="#2e2e2e" />
<rect x="959.0" y="594.4" width="1.2" height="75.6" fill="#3a3a3a" />
<rect x="948.7" y="597.9" width="10.5" height="6.5" fill="url(#rackblue)" />
<rect x="947.7" y="611.9" width="11.5" height="6.5" fill="#eeeeee" />
<rect x="949.4" y="613.4" width="8.0" height="3.5" fill="url(#dispgray)" />
<circle cx="949.7" cy="624.2" r="2.3" fill="#4a4a4a" stroke="#1e1e1e" stroke-width="1.1"/>
<circle cx="957.4" cy="624.2" r="2.3" fill="#4a4a4a" stroke="#1e1e1e" stroke-width="1.1"/>
<circle cx="949.7" cy="634.6" r="2.3" fill="#4a4a4a" stroke="#1e1e1e" stroke-width="1.1"/>
<circle cx="957.4" cy="634.6" r="2.3" fill="#4a4a4a" stroke="#1e1e1e" stroke-width="1.1"/>
<circle cx="949.7" cy="645.0" r="2.3" fill="#4a4a4a" stroke="#1e1e1e" stroke-width="1.1"/>
<circle cx="957.4" cy="645.0" r="2.3" fill="#4a4a4a" stroke="#1e1e1e" stroke-width="1.1"/>
<circle cx="949.7" cy="655.4" r="2.3" fill="#4a4a4a" stroke="#1e1e1e" stroke-width="1.1"/>
<circle cx="957.4" cy="655.4" r="2.3" fill="#4a4a4a" stroke="#1e1e1e" stroke-width="1.1"/>
<rect x="963.6" y="593.4" width="19.7" height="77.6" fill="#535353" stroke="#333" stroke-width="0.8"/>
<rect x="963.6" y="593.4" width="1.4" height="77.6" fill="#2e2e2e" />
<rect x="981.7" y="594.4" width="1.2" height="75.6" fill="#3a3a3a" />
<rect x="971.1" y="597.9" width="10.5" height="6.5" fill="url(#rackblue)" />
<rect x="970.1" y="611.9" width="11.5" height="6.5" fill="#eeeeee" />
<rect x="971.8" y="613.4" width="8.0" height="3.5" fill="url(#dispgray)" />
<circle cx="972.1" cy="624.2" r="2.3" fill="#4a4a4a" stroke="#1e1e1e" stroke-width="1.1"/>
<circle cx="979.8" cy="624.2" r="2.3" fill="#4a4a4a" stroke="#1e1e1e" stroke-width="1.1"/>
<circle cx="972.1" cy="634.6" r="2.3" fill="#4a4a4a" stroke="#1e1e1e" stroke-width="1.1"/>
<circle cx="979.8" cy="634.6" r="2.3" fill="#4a4a4a" stroke="#1e1e1e" stroke-width="1.1"/>
<circle cx="972.1" cy="645.0" r="2.3" fill="#4a4a4a" stroke="#1e1e1e" stroke-width="1.1"/>
<circle cx="979.8" cy="645.0" r="2.3" fill="#4a4a4a" stroke="#1e1e1e" stroke-width="1.1"/>
<circle cx="972.1" cy="655.4" r="2.3" fill="#4a4a4a" stroke="#1e1e1e" stroke-width="1.1"/>
<circle cx="979.8" cy="655.4" r="2.3" fill="#4a4a4a" stroke="#1e1e1e" stroke-width="1.1"/>
<rect x="986.4" y="593.4" width="18.6" height="77.6" fill="#535353" stroke="#333" stroke-width="0.8"/>
<rect x="986.4" y="593.4" width="1.4" height="77.6" fill="#2e2e2e" />
<rect x="1003.4" y="594.4" width="1.2" height="75.6" fill="#3a3a3a" />
<rect x="993.9" y="597.9" width="10.5" height="6.5" fill="url(#rackblue)" />
<rect x="992.9" y="611.9" width="11.5" height="6.5" fill="#eeeeee" />
<rect x="994.6" y="613.4" width="8.0" height="3.5" fill="url(#dispgray)" />
<circle cx="994.9" cy="624.2" r="2.3" fill="#4a4a4a" stroke="#1e1e1e" stroke-width="1.1"/>
<circle cx="1002.6" cy="624.2" r="2.3" fill="#4a4a4a" stroke="#1e1e1e" stroke-width="1.1"/>
<circle cx="994.9" cy="634.6" r="2.3" fill="#4a4a4a" stroke="#1e1e1e" stroke-width="1.1"/>
<circle cx="1002.6" cy="634.6" r="2.3" fill="#4a4a4a" stroke="#1e1e1e" stroke-width="1.1"/>
<circle cx="994.9" cy="645.0" r="2.3" fill="#4a4a4a" stroke="#1e1e1e" stroke-width="1.1"/>
<circle cx="1002.6" cy="645.0" r="2.3" fill="#4a4a4a" stroke="#1e1e1e" stroke-width="1.1"/>
<circle cx="994.9" cy="655.4" r="2.3" fill="#4a4a4a" stroke="#1e1e1e" stroke-width="1.1"/>
<circle cx="1002.6" cy="655.4" r="2.3" fill="#4a4a4a" stroke="#1e1e1e" stroke-width="1.1"/>
<rect x="1008.0" y="593.4" width="23.4" height="77.6" fill="#535353" stroke="#333" stroke-width="0.8"/>
<rect x="1008.0" y="593.4" width="1.4" height="77.6" fill="#2e2e2e" />
<rect x="1025.4" y="596.4" width="1.6" height="71.6" fill="#2a2a2a" />
<rect x="1028.8" y="596.4" width="1.6" height="71.6" fill="#2a2a2a" />
<rect x="1015.5" y="597.9" width="10.5" height="6.5" fill="url(#rackblue)" />
<rect x="1014.5" y="611.9" width="11.5" height="6.5" fill="#eeeeee" />
<rect x="1016.2" y="613.4" width="8.0" height="3.5" fill="url(#dispgray)" />
<circle cx="1016.5" cy="624.2" r="2.3" fill="#4a4a4a" stroke="#1e1e1e" stroke-width="1.1"/>
<circle cx="1024.2" cy="624.2" r="2.3" fill="#4a4a4a" stroke="#1e1e1e" stroke-width="1.1"/>
<circle cx="1016.5" cy="634.6" r="2.3" fill="#4a4a4a" stroke="#1e1e1e" stroke-width="1.1"/>
<circle cx="1024.2" cy="634.6" r="2.3" fill="#4a4a4a" stroke="#1e1e1e" stroke-width="1.1"/>
<circle cx="1016.5" cy="645.0" r="2.3" fill="#4a4a4a" stroke="#1e1e1e" stroke-width="1.1"/>
<circle cx="1024.2" cy="645.0" r="2.3" fill="#4a4a4a" stroke="#1e1e1e" stroke-width="1.1"/>
<circle cx="1016.5" cy="655.4" r="2.3" fill="#4a4a4a" stroke="#1e1e1e" stroke-width="1.1"/>
<circle cx="1024.2" cy="655.4" r="2.3" fill="#4a4a4a" stroke="#1e1e1e" stroke-width="1.1"/>
<rect x="1035.1" y="593.4" width="21.5" height="77.6" fill="#535353" stroke="#333" stroke-width="0.8"/>
<rect x="1035.1" y="593.4" width="1.4" height="77.6" fill="#2e2e2e" />
<rect x="1055.0" y="594.4" width="1.2" height="75.6" fill="#3a3a3a" />
<rect x="1042.6" y="597.9" width="10.5" height="6.5" fill="url(#rackblue)" />
<rect x="1041.6" y="611.9" width="11.5" height="6.5" fill="#eeeeee" />
<rect x="1043.3" y="613.4" width="8.0" height="3.5" fill="url(#dispgray)" />
<circle cx="1043.6" cy="624.2" r="2.3" fill="#4a4a4a" stroke="#1e1e1e" stroke-width="1.1"/>
<circle cx="1051.3" cy="624.2" r="2.3" fill="#4a4a4a" stroke="#1e1e1e" stroke-width="1.1"/>
<circle cx="1043.6" cy="634.6" r="2.3" fill="#4a4a4a" stroke="#1e1e1e" stroke-width="1.1"/>
<circle cx="1051.3" cy="634.6" r="2.3" fill="#4a4a4a" stroke="#1e1e1e" stroke-width="1.1"/>
<circle cx="1043.6" cy="645.0" r="2.3" fill="#4a4a4a" stroke="#1e1e1e" stroke-width="1.1"/>
<circle cx="1051.3" cy="645.0" r="2.3" fill="#4a4a4a" stroke="#1e1e1e" stroke-width="1.1"/>
<circle cx="1043.6" cy="655.4" r="2.3" fill="#4a4a4a" stroke="#1e1e1e" stroke-width="1.1"/>
<circle cx="1051.3" cy="655.4" r="2.3" fill="#4a4a4a" stroke="#1e1e1e" stroke-width="1.1"/>
<rect x="1059.6" y="593.4" width="25.6" height="77.6" fill="#535353" stroke="#333" stroke-width="0.8"/>
<rect x="1059.6" y="593.4" width="1.4" height="77.6" fill="#2e2e2e" />
<rect x="1079.2" y="596.4" width="1.6" height="71.6" fill="#2a2a2a" />
<rect x="1082.6" y="596.4" width="1.6" height="71.6" fill="#2a2a2a" />
<rect x="1067.1" y="597.9" width="10.5" height="6.5" fill="url(#rackblue)" />
<rect x="1066.1" y="611.9" width="11.5" height="6.5" fill="#eeeeee" />
<rect x="1067.8" y="613.4" width="8.0" height="3.5" fill="url(#dispgray)" />
<circle cx="1068.1" cy="624.2" r="2.3" fill="#4a4a4a" stroke="#1e1e1e" stroke-width="1.1"/>
<circle cx="1075.8" cy="624.2" r="2.3" fill="#4a4a4a" stroke="#1e1e1e" stroke-width="1.1"/>
<circle cx="1068.1" cy="634.6" r="2.3" fill="#4a4a4a" stroke="#1e1e1e" stroke-width="1.1"/>
<circle cx="1075.8" cy="634.6" r="2.3" fill="#4a4a4a" stroke="#1e1e1e" stroke-width="1.1"/>
<circle cx="1068.1" cy="645.0" r="2.3" fill="#4a4a4a" stroke="#1e1e1e" stroke-width="1.1"/>
<circle cx="1075.8" cy="645.0" r="2.3" fill="#4a4a4a" stroke="#1e1e1e" stroke-width="1.1"/>
<circle cx="1068.1" cy="655.4" r="2.3" fill="#4a4a4a" stroke="#1e1e1e" stroke-width="1.1"/>
<circle cx="1075.8" cy="655.4" r="2.3" fill="#4a4a4a" stroke="#1e1e1e" stroke-width="1.1"/>
<rect x="1088.2" y="593.4" width="26.2" height="77.6" fill="#535353" stroke="#333" stroke-width="0.8"/>
<rect x="1088.2" y="593.4" width="1.4" height="77.6" fill="#2e2e2e" />
<rect x="1108.4" y="596.4" width="1.6" height="71.6" fill="#2a2a2a" />
<rect x="1111.8" y="596.4" width="1.6" height="71.6" fill="#2a2a2a" />
<rect x="1095.7" y="597.9" width="10.5" height="6.5" fill="url(#rackblue)" />
<rect x="1094.7" y="611.9" width="11.5" height="6.5" fill="#eeeeee" />
<rect x="1096.4" y="613.4" width="8.0" height="3.5" fill="url(#dispgray)" />
<circle cx="1096.7" cy="624.2" r="2.3" fill="#4a4a4a" stroke="#1e1e1e" stroke-width="1.1"/>
<circle cx="1104.4" cy="624.2" r="2.3" fill="#4a4a4a" stroke="#1e1e1e" stroke-width="1.1"/>
<circle cx="1096.7" cy="634.6" r="2.3" fill="#4a4a4a" stroke="#1e1e1e" stroke-width="1.1"/>
<circle cx="1104.4" cy="634.6" r="2.3" fill="#4a4a4a" stroke="#1e1e1e" stroke-width="1.1"/>
<circle cx="1096.7" cy="645.0" r="2.3" fill="#4a4a4a" stroke="#1e1e1e" stroke-width="1.1"/>
<circle cx="1104.4" cy="645.0" r="2.3" fill="#4a4a4a" stroke="#1e1e1e" stroke-width="1.1"/>
<circle cx="1096.7" cy="655.4" r="2.3" fill="#4a4a4a" stroke="#1e1e1e" stroke-width="1.1"/>
<circle cx="1104.4" cy="655.4" r="2.3" fill="#4a4a4a" stroke="#1e1e1e" stroke-width="1.1"/>
<polyline points="814.5,282 814.5,307 1217,307 1217,333 685,333 685,353" fill="none" stroke="#e60012" stroke-width="3" stroke-linejoin="miter"/>
<polyline points="829.6,282 829.6,297.5 1231,297.5 1231,344 696.5,344 696.5,353" fill="none" stroke="#e60012" stroke-width="3" stroke-linejoin="miter"/>
<polyline points="1051.4,280 1051.4,297.5" fill="none" stroke="#e60012" stroke-width="3" stroke-linejoin="miter"/>
<polyline points="1031.4,289 1031.4,295" fill="none" stroke="#e60012" stroke-width="3" stroke-linejoin="miter"/>
<polyline points="1031.4,299 1031.4,307" fill="none" stroke="#e60012" stroke-width="3" stroke-linejoin="miter"/>
<polyline points="760.7,333 760.7,341" fill="none" stroke="#e60012" stroke-width="3" stroke-linejoin="miter"/>
<polyline points="760.7,347 760.7,353" fill="none" stroke="#e60012" stroke-width="3" stroke-linejoin="miter"/>
<polyline points="769.6,344 769.6,353" fill="none" stroke="#e60012" stroke-width="3" stroke-linejoin="miter"/>
<polyline points="887.5,344 887.5,353" fill="none" stroke="#e60012" stroke-width="3" stroke-linejoin="miter"/>
<polyline points="911.6,344 911.6,353" fill="none" stroke="#e60012" stroke-width="3" stroke-linejoin="miter"/>
<polyline points="932.5,344 932.5,353" fill="none" stroke="#e60012" stroke-width="3" stroke-linejoin="miter"/>
<polyline points="955.3,344 955.3,353" fill="none" stroke="#e60012" stroke-width="3" stroke-linejoin="miter"/>
<polyline points="978.1,344 978.1,353" fill="none" stroke="#e60012" stroke-width="3" stroke-linejoin="miter"/>
<polyline points="1003.1,344 1003.1,353" fill="none" stroke="#e60012" stroke-width="3" stroke-linejoin="miter"/>
<polyline points="1028.75,344 1028.75,353" fill="none" stroke="#e60012" stroke-width="3" stroke-linejoin="miter"/>
<polyline points="1061.6,344 1061.6,353" fill="none" stroke="#e60012" stroke-width="3" stroke-linejoin="miter"/>
<polyline points="1089.7,344 1089.7,353" fill="none" stroke="#e60012" stroke-width="3" stroke-linejoin="miter"/>
<polyline points="1118.75,344 1118.75,353" fill="none" stroke="#e60012" stroke-width="3" stroke-linejoin="miter"/>
<polyline points="898,333 898,341" fill="none" stroke="#e60012" stroke-width="3" stroke-linejoin="miter"/>
<polyline points="898,347 898,353" fill="none" stroke="#e60012" stroke-width="3" stroke-linejoin="miter"/>
<polyline points="922.5,333 922.5,341" fill="none" stroke="#e60012" stroke-width="3" stroke-linejoin="miter"/>
<polyline points="922.5,347 922.5,353" fill="none" stroke="#e60012" stroke-width="3" stroke-linejoin="miter"/>
<polyline points="943.75,333 943.75,341" fill="none" stroke="#e60012" stroke-width="3" stroke-linejoin="miter"/>
<polyline points="943.75,347 943.75,353" fill="none" stroke="#e60012" stroke-width="3" stroke-linejoin="miter"/>
<polyline points="966.25,333 966.25,341" fill="none" stroke="#e60012" stroke-width="3" stroke-linejoin="miter"/>
<polyline points="966.25,347 966.25,353" fill="none" stroke="#e60012" stroke-width="3" stroke-linejoin="miter"/>
<polyline points="989.7,333 989.7,341" fill="none" stroke="#e60012" stroke-width="3" stroke-linejoin="miter"/>
<polyline points="989.7,347 989.7,353" fill="none" stroke="#e60012" stroke-width="3" stroke-linejoin="miter"/>
<polyline points="1013.75,333 1013.75,341" fill="none" stroke="#e60012" stroke-width="3" stroke-linejoin="miter"/>
<polyline points="1013.75,347 1013.75,353" fill="none" stroke="#e60012" stroke-width="3" stroke-linejoin="miter"/>
<polyline points="1040.3,333 1040.3,341" fill="none" stroke="#e60012" stroke-width="3" stroke-linejoin="miter"/>
<polyline points="1040.3,347 1040.3,353" fill="none" stroke="#e60012" stroke-width="3" stroke-linejoin="miter"/>
<polyline points="1073.4,333 1073.4,341" fill="none" stroke="#e60012" stroke-width="3" stroke-linejoin="miter"/>
<polyline points="1073.4,347 1073.4,353" fill="none" stroke="#e60012" stroke-width="3" stroke-linejoin="miter"/>
<polyline points="1100.6,333 1100.6,341" fill="none" stroke="#e60012" stroke-width="3" stroke-linejoin="miter"/>
<polyline points="1100.6,347 1100.6,353" fill="none" stroke="#e60012" stroke-width="3" stroke-linejoin="miter"/>
<polyline points="1129.4,333 1129.4,341" fill="none" stroke="#e60012" stroke-width="3" stroke-linejoin="miter"/>
<polyline points="1129.4,347 1129.4,353" fill="none" stroke="#e60012" stroke-width="3" stroke-linejoin="miter"/>
<polyline points="581.5,527.5 600.5,527.5 600.5,574.5 738,574.5 738,594" fill="none" stroke="#e60012" stroke-width="3" stroke-linejoin="miter"/>
<polyline points="583,655 600.5,655 600.5,584.5 729,584.5 729,594" fill="none" stroke="#e60012" stroke-width="3" stroke-linejoin="miter"/>
<polyline points="753,576 1105.5,576 1105.5,593.5" fill="none" stroke="#e60012" stroke-width="3" stroke-linejoin="miter"/>
<polyline points="753,585 1097.5,585 1097.5,593.5" fill="none" stroke="#e60012" stroke-width="3" stroke-linejoin="miter"/>
<polyline points="924.3,585 924.3,593.5" fill="none" stroke="#e60012" stroke-width="3" stroke-linejoin="miter"/>
<polyline points="948.4,585 948.4,593.5" fill="none" stroke="#e60012" stroke-width="3" stroke-linejoin="miter"/>
<polyline points="970,585 970,593.5" fill="none" stroke="#e60012" stroke-width="3" stroke-linejoin="miter"/>
<polyline points="992.9,585 992.9,593.5" fill="none" stroke="#e60012" stroke-width="3" stroke-linejoin="miter"/>
<polyline points="1015.2,585 1015.2,593.5" fill="none" stroke="#e60012" stroke-width="3" stroke-linejoin="miter"/>
<polyline points="1040.5,585 1040.5,593.5" fill="none" stroke="#e60012" stroke-width="3" stroke-linejoin="miter"/>
<polyline points="1067.6,585 1067.6,593.5" fill="none" stroke="#e60012" stroke-width="3" stroke-linejoin="miter"/>
<polyline points="935,576 935,582" fill="none" stroke="#e60012" stroke-width="3" stroke-linejoin="miter"/>
<polyline points="935,588 935,593.5" fill="none" stroke="#e60012" stroke-width="3" stroke-linejoin="miter"/>
<polyline points="959.3,576 959.3,582" fill="none" stroke="#e60012" stroke-width="3" stroke-linejoin="miter"/>
<polyline points="959.3,588 959.3,593.5" fill="none" stroke="#e60012" stroke-width="3" stroke-linejoin="miter"/>
<polyline points="981,576 981,582" fill="none" stroke="#e60012" stroke-width="3" stroke-linejoin="miter"/>
<polyline points="981,588 981,593.5" fill="none" stroke="#e60012" stroke-width="3" stroke-linejoin="miter"/>
<polyline points="1003.7,576 1003.7,582" fill="none" stroke="#e60012" stroke-width="3" stroke-linejoin="miter"/>
<polyline points="1003.7,588 1003.7,593.5" fill="none" stroke="#e60012" stroke-width="3" stroke-linejoin="miter"/>
<polyline points="1026.8,576 1026.8,582" fill="none" stroke="#e60012" stroke-width="3" stroke-linejoin="miter"/>
<polyline points="1026.8,588 1026.8,593.5" fill="none" stroke="#e60012" stroke-width="3" stroke-linejoin="miter"/>
<polyline points="1051.3,576 1051.3,582" fill="none" stroke="#e60012" stroke-width="3" stroke-linejoin="miter"/>
<polyline points="1051.3,588 1051.3,593.5" fill="none" stroke="#e60012" stroke-width="3" stroke-linejoin="miter"/>
<polyline points="1077.7,576 1077.7,582" fill="none" stroke="#e60012" stroke-width="3" stroke-linejoin="miter"/>
<polyline points="1077.7,588 1077.7,593.5" fill="none" stroke="#e60012" stroke-width="3" stroke-linejoin="miter"/>
<g filter="url(#shadow)"><rect x="774.4" y="200.4" width="80.89999999999998" height="80.6" fill="#cfd3d8"/></g><svg x="774.4" y="200.4" width="80.89999999999998" height="80.6" viewBox="0 0 100 100" preserveAspectRatio="none"><g filter="url(#soft)"><rect x="0" y="0" width="100" height="100" fill="#a4a6a6"/><polygon points="0,0 100,0 100,12 46,5 15,11 0,11" fill="#d6d6d4"/><polygon points="0,0 46,0 46,5 15,11 0,12" fill="#43474c"/><rect x="0" y="10" width="16" height="14" fill="#d2d2d0"/><polygon points="0,60 100,70 100,100 0,100" fill="#7c7b74"/><polygon points="0,24 12,22 12,100 0,100" fill="#8e8d88"/><polygon points="3.9,20 11.6,19 11.6,80 3.9,76" fill="#a8a49c"/><polygon points="6,22.8 77,11 79,58 14,55" fill="#1e2a34"/><polygon points="7.8,22.8 30,19 34,54.5 16.3,53.5" fill="#2a3a46" opacity="0.7"/><polygon points="4,21 79,8.7 79,12.5 7,25" fill="#c4c0b8"/><polygon points="86.8,11 97.7,17 97.7,56.7 86.8,60" fill="#5e5048"/><polygon points="90.5,22 92.5,23 92.5,54 90.5,55" fill="#9a6a4e"/><polygon points="11.6,52 79,56 79,63 11.6,59" fill="#7c7872"/><polygon points="11.6,58 79,62 79,91.3 11.6,81.9" fill="#b9b5ad"/><polygon points="56.6,66 78.3,68 78.3,94.5 56.6,90" fill="#30343a"/><rect x="64" y="80" width="5" height="8" fill="#9a9a9a"/><rect x="79" y="8.7" width="7" height="88" fill="#b8b4ac"/><polygon points="86,60 98,58 98,92 86,96" fill="#3c3e40"/></g></svg><rect x="774.9" y="200.9" width="79.89999999999998" height="79.6" fill="none" stroke="#8fa6c8" stroke-width="1.2"/>
<g filter="url(#shadow)"><rect x="988" y="171" width="131" height="108" fill="#cfd3d8"/></g><svg x="988" y="171" width="131" height="108" viewBox="0 0 100 100" preserveAspectRatio="none"><g filter="url(#soft)"><rect x="0" y="0" width="100" height="100" fill="#c6c8c8"/><rect x="0" y="0" width="100" height="24" fill="#dcdcda"/><rect x="0.6" y="9.7" width="5.6" height="12" fill="#3a4048"/><rect x="10.6" y="12.7" width="19.8" height="8" rx="2" fill="#eeeeec" stroke="#9a9a98" stroke-width="0.8"/><rect x="29" y="8" width="25" height="9" rx="2" fill="#eeeeec" stroke="#9a9a98" stroke-width="0.8"/><rect x="56" y="3.7" width="21" height="9" rx="2" fill="#eeeeec" stroke="#9a9a98" stroke-width="0.8"/><polygon points="0,24 100,26 100,100 0,100" fill="#d2d2ce"/><polygon points="4.3,24 73.3,17 73.3,53 4.3,53" fill="#b4b4b2"/><polygon points="13,28 24,27 27,50 15,50" fill="#2c343e"/><polygon points="40,25 54,24 58,48 43,48" fill="#2c343e"/><polygon points="62,24 72,23 70,50 60,50" fill="#5a5048"/><g stroke="#8c5632" stroke-width="2.6" fill="none"><line x1="8" y1="26" x2="14" y2="50"/><line x1="22" y1="25" x2="30" y2="50"/><line x1="44" y1="24" x2="37" y2="50"/><line x1="50" y1="23" x2="59" y2="50"/><line x1="74" y1="22" x2="66" y2="52"/></g><g stroke="#7a5038" stroke-width="1" fill="none"><line x1="6" y1="36" x2="72" y2="34"/><line x1="6" y1="44" x2="72" y2="43"/></g><polygon points="3,23.5 74,14.5 74,19 3,27.5" fill="#e2e2de"/><polygon points="74,14.5 98.8,24 98.8,28 74,19" fill="#e2e2de"/><polygon points="82,14 99,25 99,33 86,51 82,51" fill="#3f8cb2"/><rect x="73.3" y="12" width="6.8" height="87" fill="#e4e4e0"/><rect x="95.7" y="24" width="2.7" height="70" fill="#dcdcd8"/><rect x="1.2" y="25" width="5" height="58" fill="#dcdcd8"/><polygon points="3,52 73.3,53 73.3,59 3,58" fill="#dededa"/><polygon points="80,52 98,50 98,54 80,57" fill="#dededa"/><rect x="6.2" y="58" width="23" height="26" fill="#b6b6b4" stroke="#858583" stroke-width="0.7"/><rect x="29.2" y="56" width="5.6" height="36" fill="#dcdcd8"/><rect x="34.8" y="59" width="18.6" height="31" fill="#c6c6c4" stroke="#858583" stroke-width="0.7"/><rect x="56" y="60" width="17.3" height="33" fill="#3e4246"/><polygon points="80,57 95.6,55 95.6,90 80,95" fill="#4a4e52"/><ellipse cx="88" cy="78" rx="5" ry="9" fill="#2e3236"/><polygon points="0,84 73,94 73,100 0,100" fill="#74746e"/><polygon points="0,92 22,96 22,99 0,96" fill="#b09a4c"/><polygon points="3,82 73,90 73,95 3,86" fill="#dadad6"/></g></svg><rect x="988.5" y="171.5" width="130" height="107" fill="none" stroke="#8fa6c8" stroke-width="1.2"/>
<g filter="url(#shadow)"><rect x="515.8" y="342.5" width="81.70000000000005" height="80.0" fill="#cfd3d8"/></g><svg x="515.8" y="342.5" width="81.70000000000005" height="80.0" viewBox="0 0 100 100" preserveAspectRatio="none"><g filter="url(#soft)"><rect x="0" y="0" width="100" height="100" fill="#a4a6a6"/><polygon points="0,0 100,0 100,12 46,5 15,11 0,11" fill="#d6d6d4"/><polygon points="0,0 46,0 46,5 15,11 0,12" fill="#43474c"/><rect x="0" y="10" width="16" height="14" fill="#d2d2d0"/><polygon points="0,60 100,70 100,100 0,100" fill="#7c7b74"/><polygon points="0,24 12,22 12,100 0,100" fill="#8e8d88"/><polygon points="3.9,20 11.6,19 11.6,80 3.9,76" fill="#a8a49c"/><polygon points="6,22.8 77,11 79,58 14,55" fill="#1e2a34"/><polygon points="7.8,22.8 30,19 34,54.5 16.3,53.5" fill="#2a3a46" opacity="0.7"/><polygon points="4,21 79,8.7 79,12.5 7,25" fill="#c4c0b8"/><polygon points="86.8,11 97.7,17 97.7,56.7 86.8,60" fill="#5e5048"/><polygon points="90.5,22 92.5,23 92.5,54 90.5,55" fill="#9a6a4e"/><polygon points="11.6,52 79,56 79,63 11.6,59" fill="#7c7872"/><polygon points="11.6,58 79,62 79,91.3 11.6,81.9" fill="#b9b5ad"/><polygon points="56.6,66 78.3,68 78.3,94.5 56.6,90" fill="#30343a"/><rect x="64" y="80" width="5" height="8" fill="#9a9a9a"/><rect x="79" y="8.7" width="7" height="88" fill="#b8b4ac"/><polygon points="86,60 98,58 98,92 86,96" fill="#3c3e40"/></g></svg><rect x="516.3" y="343.0" width="80.70000000000005" height="79.0" fill="none" stroke="#8fa6c8" stroke-width="1.2"/>
<g filter="url(#shadow)"><rect x="509" y="459.7" width="72.29999999999995" height="82.69999999999999" fill="#cfd3d8"/></g><svg x="509" y="459.7" width="72.29999999999995" height="82.69999999999999" viewBox="0 0 100 100" preserveAspectRatio="none"><g filter="url(#soft)"><rect x="0" y="0" width="100" height="100" fill="#ffffff"/><polygon points="8.2,10 11,6.3 89,6.3 90.9,10 90.9,21.3 8.2,21.3" fill="#eeeeee"/><rect x="8.2" y="21.3" width="13.6" height="66" fill="#3a475a"/><g fill="#9aa4b4"><rect x="9.2" y="23.0" width="2.6" height="3.4"/><rect x="13.5" y="23.0" width="2.6" height="3.4"/><rect x="17.8" y="23.0" width="2.6" height="3.4"/><rect x="9.2" y="28.3" width="2.6" height="3.4"/><rect x="13.5" y="28.3" width="2.6" height="3.4"/><rect x="17.8" y="28.3" width="2.6" height="3.4"/><rect x="9.2" y="33.6" width="2.6" height="3.4"/><rect x="13.5" y="33.6" width="2.6" height="3.4"/><rect x="17.8" y="33.6" width="2.6" height="3.4"/><rect x="9.2" y="38.9" width="2.6" height="3.4"/><rect x="13.5" y="38.9" width="2.6" height="3.4"/><rect x="17.8" y="38.9" width="2.6" height="3.4"/><rect x="9.2" y="44.2" width="2.6" height="3.4"/><rect x="13.5" y="44.2" width="2.6" height="3.4"/><rect x="17.8" y="44.2" width="2.6" height="3.4"/><rect x="9.2" y="49.5" width="2.6" height="3.4"/><rect x="13.5" y="49.5" width="2.6" height="3.4"/><rect x="17.8" y="49.5" width="2.6" height="3.4"/><rect x="9.2" y="54.8" width="2.6" height="3.4"/><rect x="13.5" y="54.8" width="2.6" height="3.4"/><rect x="17.8" y="54.8" width="2.6" height="3.4"/><rect x="9.2" y="60.1" width="2.6" height="3.4"/><rect x="13.5" y="60.1" width="2.6" height="3.4"/><rect x="17.8" y="60.1" width="2.6" height="3.4"/><rect x="9.2" y="65.4" width="2.6" height="3.4"/><rect x="13.5" y="65.4" width="2.6" height="3.4"/><rect x="17.8" y="65.4" width="2.6" height="3.4"/><rect x="9.2" y="70.7" width="2.6" height="3.4"/><rect x="13.5" y="70.7" width="2.6" height="3.4"/><rect x="17.8" y="70.7" width="2.6" height="3.4"/><rect x="9.2" y="76.0" width="2.6" height="3.4"/><rect x="13.5" y="76.0" width="2.6" height="3.4"/><rect x="17.8" y="76.0" width="2.6" height="3.4"/><rect x="9.2" y="81.3" width="2.6" height="3.4"/><rect x="13.5" y="81.3" width="2.6" height="3.4"/><rect x="17.8" y="81.3" width="2.6" height="3.4"/></g><rect x="21.8" y="21.3" width="69.1" height="66" fill="#e9e9e9"/><rect x="21.8" y="21.3" width="3" height="66" fill="#d8d8d8"/><rect x="59.5" y="22" width="1.4" height="64" fill="#c4c4c4"/><rect x="34.5" y="79.5" width="6.5" height="6.3" fill="#ffffff" stroke="#777" stroke-width="0.8"/><rect x="9" y="86" width="82" height="7.7" fill="#d6d6d6"/><rect x="14" y="90" width="8" height="4" fill="#bbbbbb"/><rect x="78" y="90" width="8" height="4" fill="#bbbbbb"/></g></svg><rect x="509.5" y="460.2" width="71.29999999999995" height="81.69999999999999" fill="none" stroke="#4a78a0" stroke-width="1.8"/>
<g filter="url(#shadow)"><rect x="510.3" y="581.6" width="72.69999999999999" height="83.0" fill="#cfd3d8"/></g><svg x="510.3" y="581.6" width="72.69999999999999" height="83.0" viewBox="0 0 100 100" preserveAspectRatio="none"><g filter="url(#soft)"><rect x="0" y="0" width="100" height="100" fill="#ffffff"/><polygon points="8.2,10 11,6.3 89,6.3 90.9,10 90.9,21.3 8.2,21.3" fill="#eeeeee"/><rect x="8.2" y="21.3" width="13.6" height="66" fill="#3a475a"/><g fill="#9aa4b4"><rect x="9.2" y="23.0" width="2.6" height="3.4"/><rect x="13.5" y="23.0" width="2.6" height="3.4"/><rect x="17.8" y="23.0" width="2.6" height="3.4"/><rect x="9.2" y="28.3" width="2.6" height="3.4"/><rect x="13.5" y="28.3" width="2.6" height="3.4"/><rect x="17.8" y="28.3" width="2.6" height="3.4"/><rect x="9.2" y="33.6" width="2.6" height="3.4"/><rect x="13.5" y="33.6" width="2.6" height="3.4"/><rect x="17.8" y="33.6" width="2.6" height="3.4"/><rect x="9.2" y="38.9" width="2.6" height="3.4"/><rect x="13.5" y="38.9" width="2.6" height="3.4"/><rect x="17.8" y="38.9" width="2.6" height="3.4"/><rect x="9.2" y="44.2" width="2.6" height="3.4"/><rect x="13.5" y="44.2" width="2.6" height="3.4"/><rect x="17.8" y="44.2" width="2.6" height="3.4"/><rect x="9.2" y="49.5" width="2.6" height="3.4"/><rect x="13.5" y="49.5" width="2.6" height="3.4"/><rect x="17.8" y="49.5" width="2.6" height="3.4"/><rect x="9.2" y="54.8" width="2.6" height="3.4"/><rect x="13.5" y="54.8" width="2.6" height="3.4"/><rect x="17.8" y="54.8" width="2.6" height="3.4"/><rect x="9.2" y="60.1" width="2.6" height="3.4"/><rect x="13.5" y="60.1" width="2.6" height="3.4"/><rect x="17.8" y="60.1" width="2.6" height="3.4"/><rect x="9.2" y="65.4" width="2.6" height="3.4"/><rect x="13.5" y="65.4" width="2.6" height="3.4"/><rect x="17.8" y="65.4" width="2.6" height="3.4"/><rect x="9.2" y="70.7" width="2.6" height="3.4"/><rect x="13.5" y="70.7" width="2.6" height="3.4"/><rect x="17.8" y="70.7" width="2.6" height="3.4"/><rect x="9.2" y="76.0" width="2.6" height="3.4"/><rect x="13.5" y="76.0" width="2.6" height="3.4"/><rect x="17.8" y="76.0" width="2.6" height="3.4"/><rect x="9.2" y="81.3" width="2.6" height="3.4"/><rect x="13.5" y="81.3" width="2.6" height="3.4"/><rect x="17.8" y="81.3" width="2.6" height="3.4"/></g><rect x="21.8" y="21.3" width="69.1" height="66" fill="#e9e9e9"/><rect x="21.8" y="21.3" width="3" height="66" fill="#d8d8d8"/><rect x="59.5" y="22" width="1.4" height="64" fill="#c4c4c4"/><rect x="34.5" y="79.5" width="6.5" height="6.3" fill="#ffffff" stroke="#777" stroke-width="0.8"/><rect x="9" y="86" width="82" height="7.7" fill="#d6d6d6"/><rect x="14" y="90" width="8" height="4" fill="#bbbbbb"/><rect x="78" y="90" width="8" height="4" fill="#bbbbbb"/></g></svg><rect x="510.8" y="582.1" width="71.69999999999999" height="82.0" fill="none" stroke="#4a78a0" stroke-width="1.8"/>
<rect x="22.0" y="141.0" width="383.5" height="211.0" fill="#ffffff" />
<rect x="25.5" y="147.5" width="375" height="201" fill="none" stroke="#4c5a72" stroke-width="1.2"/>
<rect x="21.0" y="401.0" width="384.5" height="210.0" fill="#ffffff" />
<rect x="25.5" y="403.5" width="375" height="200" fill="none" stroke="#4c5a72" stroke-width="1.2"/>
</svg>
<div class="t" style="left:515px;top:285px;font-size:15px;line-height:15px;font-weight:normal;color:#000;">屋面</div><div class="t" style="left:742px;top:136px;font-size:19.5px;line-height:19.5px;font-weight:bold;color:#000;transform:scaleX(1.1);transform-origin:0 0;-webkit-text-stroke:0.15px #000">80kW</div><div class="t" style="left:742px;top:158.5px;font-size:18.8px;line-height:18.8px;font-weight:bold;color:#000;;-webkit-text-stroke:0.15px #000">热管制冷复合主机</div><div class="t" style="left:965px;top:128px;font-size:19.5px;line-height:19.5px;font-weight:bold;color:#000;transform:scaleX(1.1);transform-origin:0 0;-webkit-text-stroke:0.15px #000">300kW</div><div class="t" style="left:965px;top:150px;font-size:18.8px;line-height:18.8px;font-weight:bold;color:#000;;-webkit-text-stroke:0.15px #000">热管制冷复合主机</div><div class="t" style="left:420px;top:334.5px;font-size:19.5px;line-height:19.5px;font-weight:bold;color:#000;transform:scaleX(1.1);transform-origin:0 0;-webkit-text-stroke:0.15px #000">80kW</div><div class="t" style="left:421px;top:357px;font-size:18.5px;line-height:18.5px;font-weight:bold;color:#000;;-webkit-text-stroke:0.15px #000">热管制冷</div><div class="t" style="left:421px;top:380px;font-size:18.5px;line-height:18.5px;font-weight:bold;color:#000;;-webkit-text-stroke:0.15px #000">复合主机</div><div class="t" style="left:415px;top:416.5px;font-size:15px;line-height:15px;font-weight:normal;color:#000;">室外机平台</div><div class="t" style="left:425px;top:454px;font-size:19.5px;line-height:19.5px;font-weight:bold;color:#000;transform:scaleX(1.1);transform-origin:0 0;-webkit-text-stroke:0.15px #000">40kW</div><div class="t" style="left:400px;top:486.5px;font-size:18.8px;line-height:18.8px;font-weight:bold;color:#000;;-webkit-text-stroke:0.15px #000">热管主机</div><div class="t" style="left:422px;top:575px;font-size:19.5px;line-height:19.5px;font-weight:bold;color:#000;transform:scaleX(1.1);transform-origin:0 0;-webkit-text-stroke:0.15px #000">40kW</div><div class="t" style="left:418px;top:610.5px;font-size:18.5px;line-height:18.5px;font-weight:bold;color:#000;;-webkit-text-stroke:0.15px #000">压缩主机</div>
<svg class="layer" width="1280" height="720" viewBox="0 0 1280 720">
<rect x="10.0" y="128.0" width="406.0" height="13.0" fill="#70c2ec" />
<rect x="10.0" y="352.0" width="406.0" height="12.5" fill="#70c2ec" />
<rect x="10.0" y="140.5" width="12.0" height="212.0" fill="#70c2ec" />
<rect x="405.5" y="140.5" width="10.5" height="212.0" fill="#70c2ec" />
<polygon points="10,128 78,128 53,141 22,141 22,157 10,161" fill="#135c99"/>
<polygon points="416,128 348,128 374.5,141 405.5,141 405.5,157 416,161" fill="#135c99"/>
<polygon points="10,364.5 78,364.5 53,352 22,352 22,336 10,331.5" fill="#135c99"/>
<polygon points="416,364.5 348,364.5 374.5,352 405.5,352 405.5,336 416,331.5" fill="#135c99"/>
<rect x="9.0" y="388.0" width="407.0" height="13.0" fill="#70c2ec" />
<rect x="9.0" y="611.0" width="407.0" height="13.0" fill="#70c2ec" />
<rect x="9.0" y="400.5" width="12.0" height="211.0" fill="#70c2ec" />
<rect x="405.5" y="400.5" width="10.5" height="211.0" fill="#70c2ec" />
<polygon points="9,388 77,388 52,401 21,401 21,417 9,421" fill="#135c99"/>
<polygon points="416,388 348,388 374.5,401 405.5,401 405.5,417 416,421" fill="#135c99"/>
<polygon points="9,624 77,624 52,611 21,611 21,595 9,591" fill="#135c99"/>
<polygon points="416,624 348,624 374.5,611 405.5,611 405.5,595 416,591" fill="#135c99"/>
<g transform="translate(36.7,168.5)"><path d="M0,0 L15.5,8.2 L0,17.5 L3.5,8.8 Z" fill="#ffffff" stroke="#1b4f8a" stroke-width="0.9"/><path d="M3.5,8.8 L15.5,8.2 L0,17.5 Z" fill="#1c5aa0"/></g>
<g transform="translate(36.7,213)"><path d="M0,0 L15.5,8.2 L0,17.5 L3.5,8.8 Z" fill="#ffffff" stroke="#1b4f8a" stroke-width="0.9"/><path d="M3.5,8.8 L15.5,8.2 L0,17.5 Z" fill="#1c5aa0"/></g>
<g transform="translate(36.7,302.5)"><path d="M0,0 L15.5,8.2 L0,17.5 L3.5,8.8 Z" fill="#ffffff" stroke="#1b4f8a" stroke-width="0.9"/><path d="M3.5,8.8 L15.5,8.2 L0,17.5 Z" fill="#1c5aa0"/></g>
<g transform="translate(36.7,423.5)"><path d="M0,0 L15.5,8.2 L0,17.5 L3.5,8.8 Z" fill="#ffffff" stroke="#1b4f8a" stroke-width="0.9"/><path d="M3.5,8.8 L15.5,8.2 L0,17.5 Z" fill="#1c5aa0"/></g>
<g transform="translate(36.7,513.5)"><path d="M0,0 L15.5,8.2 L0,17.5 L3.5,8.8 Z" fill="#ffffff" stroke="#1b4f8a" stroke-width="0.9"/><path d="M3.5,8.8 L15.5,8.2 L0,17.5 Z" fill="#1c5aa0"/></g>
</svg>
<div class="t" style="left:55.5px;top:165.5px;font-size:25px;line-height:25px;font-weight:bold;color:#000;;-webkit-text-stroke:0.45px #000">无需专用机房，节约建筑投资</div><div class="t" style="left:56px;top:210px;font-size:25px;line-height:25px;font-weight:normal;color:#000;">小、中模块机组可布置在室外</div><div class="t" style="left:34.7px;top:254px;font-size:25px;line-height:25px;font-weight:normal;color:#000;">机平台或挑檐。</div><div class="t" style="left:55px;top:300px;font-size:25px;line-height:25px;font-weight:normal;color:#000;">大、中模块主机布置在屋顶。</div><div class="t" style="left:55.5px;top:421.5px;font-size:25px;line-height:25px;font-weight:bold;color:#000;;-webkit-text-stroke:0.45px #000">热管系统外机安装要求与室内</div><div class="t" style="left:35.6px;top:464.5px;font-size:25px;line-height:25px;font-weight:bold;color:#000;;-webkit-text-stroke:0.45px #000">机<span style="letter-spacing:1.8px">1m</span>高差。</div><div class="t" style="left:55.5px;top:511.5px;font-size:25px;line-height:25px;font-weight:bold;color:#000;;-webkit-text-stroke:0.45px #000">当项目场景高差受限时，可采</div><div class="t" style="left:35.6px;top:554.7px;font-size:25px;line-height:25px;font-weight:bold;color:#000;;-webkit-text-stroke:0.45px #000">用氟泵驱动热管系统冷媒循环。</div>
<div class="title">新建项目推荐模式</div>
</body></html>
